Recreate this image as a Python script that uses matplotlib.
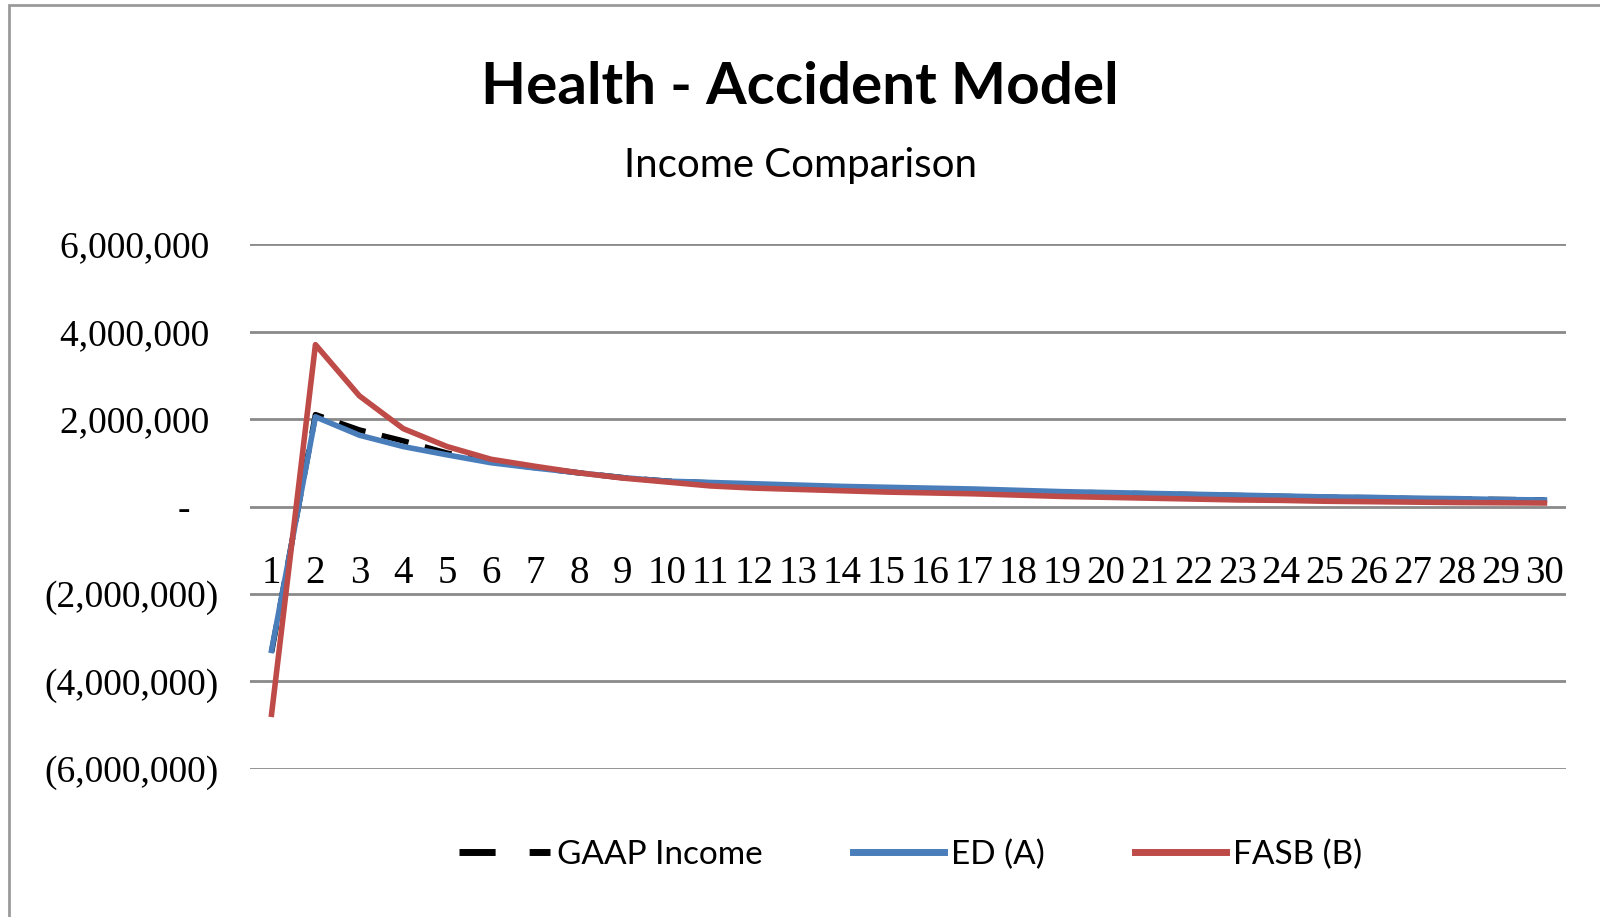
import matplotlib.pyplot as plt
from matplotlib.patches import Rectangle
from matplotlib.lines import Line2D

years = list(range(1, 31))

gaap_income = [-3330000, 2100000, 1750000, 1500000, 1220000, 1020000, 890000, 770000, 660000, 580000,
               540000, 500000, 470000, 440000, 420000, 400000, 370000, 350000, 330000, 310000,
               290000, 270000, 250000, 230000, 210000, 200000, 180000, 170000, 160000, 150000]
ed_a = [-3290000, 2050000, 1630000, 1370000, 1180000, 1000000, 880000, 770000, 660000, 580000,
        550000, 520000, 490000, 460000, 440000, 420000, 400000, 370000, 340000, 320000,
        300000, 280000, 260000, 240000, 220000, 210000, 190000, 180000, 160000, 150000]
fasb_b = [-4750000, 3700000, 2530000, 1780000, 1370000, 1080000, 920000, 770000, 650000, 560000,
          470000, 420000, 390000, 360000, 330000, 310000, 290000, 260000, 230000, 210000,
          190000, 170000, 150000, 140000, 120000, 110000, 100000, 90000, 85000, 80000]

y_ticks = [-6000000, -4000000, -2000000, 0, 2000000, 4000000, 6000000]
y_labels = ["(6,000,000)", "(4,000,000)", "(2,000,000)", "-   ", "2,000,000 ", "4,000,000 ", "6,000,000 "]

title = "Health - Accident Model"
subtitle = "Income Comparison"

sans = ["Lato", "DejaVu Sans"]
serif = ["Liberation Serif", "DejaVu Serif"]

fig = plt.figure(figsize=(16, 9.17), dpi=100)
ax = fig.add_axes([0.156, 0.1614, 0.823, 0.5725])

# chart border (only left and top edges visible in the crop)
fig.patches.append(Rectangle((0.0058, -0.1), 1.2, 1.0945, transform=fig.transFigure,
                             fill=False, edgecolor="#9a9a9a", linewidth=2))

ax.plot(years, gaap_income, color="black", linestyle=(0, (5, 3)), linewidth=4, label="GAAP Income")
ax.plot(years, ed_a, color="#4A7EBB", linewidth=4, label="ED (A)")
ax.plot(years, fasb_b, color="#BE4B48", linewidth=4, label="FASB (B)")

ax.set_xlim(0.5, 30.5)
ax.set_ylim(-6000000, 6000000)
ax.set_yticks(y_ticks)
ax.set_yticklabels(y_labels, fontfamily=serif, fontsize=27)
ax.tick_params(axis="y", length=0, pad=22)
ax.yaxis.grid(True, color="#8a8a8a", linewidth=2)
ax.set_axisbelow(True)

# category labels sit just under the zero line, like Excel's "next to axis"
ax.spines["bottom"].set_position(("data", 0))
for s in ["top", "right", "left", "bottom"]:
    ax.spines[s].set_visible(False)
ax.set_xticks(years)
ax.set_xticklabels([str(y) for y in years], fontfamily=serif, fontsize=28)
ax.tick_params(axis="x", length=0, pad=35)

fig.text(0.5, 0.905, title, ha="center", va="center", fontfamily=sans, fontweight="bold", fontsize=42)
fig.text(0.5, 0.82, subtitle, ha="center", va="center", fontfamily=sans, fontsize=29)

handles = [Line2D([], [], color="black", linestyle=(0, (5.2, 4.9)), linewidth=5),
           Line2D([], [], color="#4A7EBB", linewidth=5),
           Line2D([], [], color="#BE4B48", linewidth=5)]
fig.legend(handles, ["GAAP Income", "ED (A)", "FASB (B)"], loc="center", bbox_to_anchor=(0.569, 0.068),
           ncol=3, frameon=False, handlelength=2.75, handletextpad=0.2, columnspacing=2.7,
           prop={"family": sans, "size": 24})

fig.savefig("out.png", dpi=100, facecolor="white")
